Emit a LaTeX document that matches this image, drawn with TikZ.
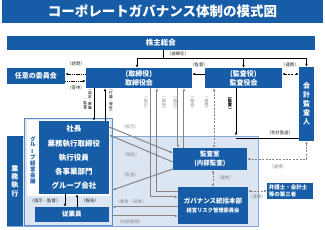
\documentclass[tikz,border=0pt]{standalone}
\usepackage{fontspec}
\usepackage{graphicx}
\setmainfont{Noto Sans CJK JP}
\usetikzlibrary{arrows.meta}
\definecolor{dblue}{HTML}{175CA6}
\definecolor{lblue}{HTML}{DCE6F2}
\definecolor{mblue}{HTML}{5B8CCB}
\definecolor{gline}{HTML}{858585}
\definecolor{glab}{HTML}{8A8A8A}
\newcommand\myfs[2]{\fontsize{#1}{#2}\selectfont}
\newcommand\vbar{\rotatebox[origin=c]{90}{ー}}
\tikzset{
  bx/.style={fill=dblue, text=white, inner sep=0pt, align=center, anchor=center},
  arr/.style={-{Latex[length=3pt,width=2.6pt]}, line width=0.7pt, black},
  garr/.style={-{Latex[length=3pt,width=2.8pt]}, line width=1pt, gline},
  link/.style={{Latex[length=2.6pt,width=2.4pt]}-{Latex[length=2.6pt,width=2.4pt]}, line width=0.7pt, dash pattern=on 2pt off 1.4pt},
  lab/.style={font=\myfs{4.4}{5}, inner sep=0pt, text=black!85},
  glabel/.style={lab, text=glab},
  vlab/.style={font=\myfs{3.7}{3.75}, inner sep=0pt, align=center},
  gvlab/.style={font=\myfs{4.2}{4.3}, inner sep=0pt, align=center, anchor=north, text=glab},
}
\begin{document}
\begin{tikzpicture}[x=1pt,y=-1pt]
\useasboundingbox (0,0) rectangle (325,230);
% title
\node[bx, minimum width=321pt, minimum height=23pt, font=\bfseries\myfs{13.5}{15}] (title) at (162.5,11.5) {コーポレートガバナンス体制の模式図};
% top boxes
\node[bx, minimum width=308pt, minimum height=14pt, font=\bfseries\myfs{7.5}{8}] (agm) at (161,43) {株主総会};
\node[bx, minimum width=106pt, minimum height=20pt, font=\bfseries\myfs{7}{9}] (board) at (139,78) {(取締役)\\取締役会};
\node[bx, minimum width=58pt, minimum height=16pt, font=\bfseries\myfs{7}{9}] (cmte) at (36,76) {任意の委員会};
\node[bx, minimum width=77pt, minimum height=20pt, font=\bfseries\myfs{7}{9}] (kansa) at (243.5,78) {(監査役)\\監査役会};
\node[bx, minimum width=15pt, minimum height=74pt, font=\bfseries\myfs{7}{9}] (auditor) at (306.5,104) {会\\計\\監\\査\\人};
% executive region
\node[draw=mblue!75, fill=lblue, line width=0.6pt, minimum width=251pt, minimum height=90pt, inner sep=0pt] (region) at (132.5,181) {};
\node[bx, minimum width=16pt, minimum height=90pt, font=\bfseries\myfs{7}{8.4}] (bar) at (15,181) {業\\務\\執\\行};
\node[draw=mblue, fill=lblue, line width=0.8pt, minimum width=88pt, minimum height=107pt, inner sep=0pt] (grp) at (68,171.5) {};
\node[fill=white, minimum width=83pt, minimum height=76pt, inner sep=0pt] (grpw) at (68.5,158) {};
\node[bx, minimum width=70pt, minimum height=73pt, font=\bfseries\myfs{7.5}{14.3}] (exec) at (74,157.5) {社長\\業務執行取締役\\執行役員\\各事業部門\\グループ会社};
\node[inner sep=0pt, align=center, text=dblue, font=\bfseries\myfs{5.5}{5.8}] (grplab) at (33,160) {グ\\ル\\\vbar\\プ\\経\\営\\会\\議};
\node[bx, minimum width=74pt, minimum height=15pt, font=\bfseries\myfs{6.5}{8}] (emp) at (72,214.5) {従業員};
\node[bx, minimum width=74pt, minimum height=22pt, font=\bfseries\myfs{6.5}{8.5}] (audit) at (210,159) {監査室\\(内部監査)};
\node[bx, minimum width=70pt, minimum height=37pt, font=\bfseries\myfs{6.5}{8.5}] (gov) at (213,205.5) {ガバナンス統括本部\\{\myfs{5.3}{8.5}経営リスク管理委員会}};
\node[bx, minimum width=46pt, minimum height=16pt, text width=42pt, align=left, font=\bfseries\myfs{5.5}{7}] (third) at (290,191) {弁護士・会計士\\等の第三者};
% shareholders connections
\coordinate (j) at (163,58);
\draw[line width=0.7pt] (agm.south -| j) -- (j);
\draw[arr] (j) -| ([xshift=-2pt]board.north);
\draw[arr] (j) -| (kansa.north);
\draw[arr] (j) -| (auditor.north);
\node[lab] (lsel) at (178,54) {（選解任）};
% committee
\draw[arr, dash pattern=on 1.2pt off 0.6pt] (board.west |- 0,74) -- (cmte.east |- 0,74);
\draw[arr, dash pattern=on 1.2pt off 0.6pt] (cmte.east |- 0,81) -- (board.west |- 0,81);
\node[lab] (lq) at (76,64) {（諮問）};
\node[lab] (la) at (76,88) {（答申）};
% kansa - board, kansa - auditor
\draw[arr] (kansa.west |- 0,74) -- (board.east |- 0,74);
\node[lab] (lsup) at (199,65) {（監督）};
\draw[link] (kansa.east |- 0,74) -- (auditor.west |- 0,74);
\node[lab] (lc1) at (290,65) {（連携）};
% board - exec
\draw[arr] (board.south -| 94,0) -- (exec.north -| 94,0);
\draw[arr] (exec.north -| 105,0) -- (board.south -| 105,0);
\node[vlab, anchor=north] (v1) at (90,90) {︵\\選\\定\\・\\解\\職};
\node[vlab, anchor=south] (v2) at (85.3,112) {・\\監\\督\\︶};
\node[vlab, anchor=north] (v3) at (111,90) {︵\\付\\議\\・\\報\\告\\︶};
% gray lines board - gov / audit
\draw[garr] (board.south -| 151,0) |- (gov.west |- 0,197);
\draw[garr] (gov.west |- 0,192) -| (board.south -| 157,0);
\draw[garr] (board.south -| 178,0) -- (audit.north -| 178,0);
\draw[garr] (audit.north -| 184,0) -- (board.south -| 184,0);
\node[gvlab] (g1) at (146,97) {︵\\指\\示\\︶};
\node[gvlab] (g2) at (164,97) {︵\\報\\告\\︶};
\node[gvlab] (g3) at (175.3,97) {︵\\指\\示\\︶};
\node[gvlab] (g4) at (192.5,97) {︵\\報\\告\\︶};
\node[gvlab] (g5) at (206.5,97) {︵\\連\\携\\︶};
\node[gvlab, text=black, font=\bfseries\myfs{4.2}{4.3}] (g6) at (230,97) {︵\\監\\査\\︶};
% kansa - audit / region
\draw[link, gline] (kansa.south -| 214,0) -- (audit.north -| 214,0);
\draw[arr] (kansa.south -| 236,0) -- (region.north -| 236,0);
\coordinate (ka) at (236,138);
\draw[line width=0.7pt] (auditor.west |- ka) -- (ka);
\node[lab] (lka) at (280,133) {（会計監査）};
\draw[link, gline] (auditor.south) |- (audit.east |- 0,159);
\node[lab, text=glab] (lc2) at (278,167) {（連携）};
\draw[link, gline] (audit.south -| 213,0) -- (gov.north -| 213,0);
\node[glabel] (lc3) at (225,178) {（連携）};
\draw[link, gline] (gov.east |- third.west) -- (third.west);
\node[glabel] (lc4) at (257,196.5) {（連携）};
% diagonals exec - audit
\draw[garr] (exec.east |- 0,127) -- (audit.west |- 0,153);
\draw[garr] (audit.west |- 0,162) -- (exec.east |- 0,135);
\draw[garr] (audit.west |- 0,169) -- (grp.east |- 0,190);
\node[glabel] (d1) at (130,127) {（指示）};
\node[glabel] (d2) at (131,155) {（報告）};
\node[glabel] (d3) at (130,175) {（監査）};
% bottom horizontal
\draw[garr] (gov.west |- 0,207) -- (grp.east |- 0,207);
\draw[garr] (grp.east |- 0,216) -- (gov.west |- 0,216);
\node[glabel] (b1) at (131,202) {（教育・研修）};
\node[glabel] (b2) at (130,222) {（内部通報）};
% exec - employees
\draw[arr] (exec.south -| 65,0) -- (emp.north -| 65,0);
\draw[arr] (emp.north -| 77,0) -- (exec.south -| 77,0);
\node[lab] (e1) at (45,200.5) {（指示・監督）};
\node[lab] (e2) at (90,200.5) {（報告）};
\end{tikzpicture}
\end{document}
